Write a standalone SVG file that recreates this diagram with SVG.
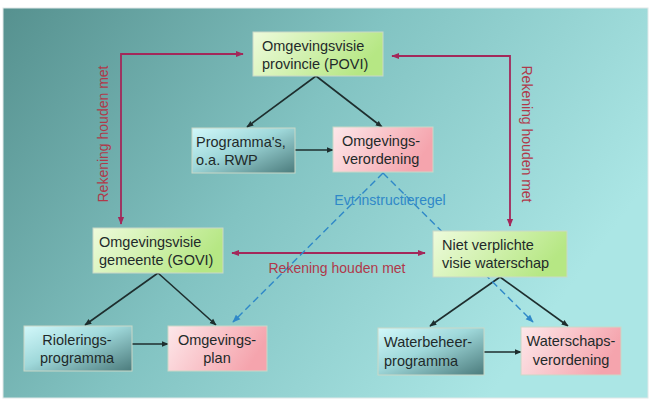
<svg xmlns="http://www.w3.org/2000/svg" width="654" height="407" viewBox="0 0 654 407">
<defs>
<linearGradient id="bg" x1="0" y1="0" x2="1" y2="0.45">
<stop offset="0" stop-color="#56918f"/>
<stop offset="0.5" stop-color="#82c3c2"/>
<stop offset="1" stop-color="#abe6e5"/>
</linearGradient>
<linearGradient id="green" x1="0" y1="0" x2="1" y2="0.3">
<stop offset="0" stop-color="#eefbdc"/>
<stop offset="1" stop-color="#b6e784"/>
</linearGradient>
<linearGradient id="teal" x1="0" y1="0" x2="1" y2="1">
<stop offset="0" stop-color="#d2f8fa"/>
<stop offset="0.45" stop-color="#9fd8da"/>
<stop offset="1" stop-color="#4b7b7c"/>
</linearGradient>
<linearGradient id="pink" x1="0" y1="0" x2="1" y2="0.3">
<stop offset="0" stop-color="#fde8ea"/>
<stop offset="1" stop-color="#f5a4ad"/>
</linearGradient>
<marker id="ab" viewBox="0 0 10 10" refX="9" refY="5" markerWidth="7" markerHeight="7" orient="auto" markerUnits="userSpaceOnUse">
<path d="M0,1 L10,5 L0,9 z" fill="#1e2e2e"/>
</marker>
<marker id="ar" viewBox="0 0 10 10" refX="9" refY="5" markerWidth="8" markerHeight="8" orient="auto-start-reverse" markerUnits="userSpaceOnUse">
<path d="M0,1 L10,5 L0,9 z" fill="#a3285a"/>
</marker>
<marker id="abl" viewBox="0 0 10 10" refX="9" refY="5" markerWidth="8" markerHeight="8" orient="auto" markerUnits="userSpaceOnUse">
<path d="M0,1 L10,5 L0,9 z" fill="#2f88c8"/>
</marker>
</defs>
<style>
.box{stroke:#c9d8c8;stroke-width:1}
.t{font-family:"Liberation Sans",Arial,sans-serif;font-size:14.5px;fill:#1f2a2a}
.c{text-anchor:middle}
.blk{stroke:#1e2e2e;stroke-width:1.6;fill:none}
.red{stroke:#a3285a;stroke-width:1.8;fill:none}
.blue{stroke:#2f88c8;stroke-width:1.4;fill:none;stroke-dasharray:7 4}
.rl{font-family:"Liberation Sans",Arial,sans-serif;font-size:14px;fill:#b0394a}
.bl{font-family:"Liberation Sans",Arial,sans-serif;font-size:14px;fill:#2f88c8}
</style>
<rect x="0" y="0" width="654" height="407" fill="#ffffff"/>
<rect x="3" y="8" width="645" height="390" fill="url(#bg)" stroke="#dfe8e8" stroke-width="1"/>

<g id="connectors">
<path class="blk" d="M316,76 L247,127" marker-end="url(#ab)"/>
<path class="blk" d="M316,76 L382,127" marker-end="url(#ab)"/>
<path class="blk" d="M295,150 L333,150" marker-end="url(#ab)"/>
<path class="blk" d="M158,273 L85,325" marker-end="url(#ab)"/>
<path class="blk" d="M158,273 L216,325" marker-end="url(#ab)"/>
<path class="blk" d="M132,344 L168,344" marker-end="url(#ab)"/>
<path class="blk" d="M500,277 L430,326" marker-end="url(#ab)"/>
<path class="blk" d="M500,277 L568,326" marker-end="url(#ab)"/>
<path class="blk" d="M484,352 L521,352" marker-end="url(#ab)"/>
<path class="red" d="M243,54 L121,54 L121,224" marker-start="url(#ar)" marker-end="url(#ar)"/>
<path class="red" d="M392,56 L510,56 L510,226" marker-start="url(#ar)" marker-end="url(#ar)"/>
<path class="red" d="M232,253 L425,253" marker-start="url(#ar)" marker-end="url(#ar)"/>
<path class="blue" d="M383,173 L233,322" marker-end="url(#abl)"/>
<path class="blue" d="M383,173 L533,322" marker-end="url(#abl)"/>
<text class="rl" transform="translate(108,134) rotate(-90)" text-anchor="middle">Rekening houden met</text>
<text class="rl" transform="translate(522,134) rotate(90)" text-anchor="middle">Rekening houden met</text>
<text class="rl" x="337" y="273" text-anchor="middle">Rekening houden met</text>
<text class="bl" x="390" y="205" text-anchor="middle">Evt  instructieregel</text>
</g>

<g id="povi">
<rect class="box" x="253" y="32" width="130" height="44" fill="url(#green)"/>
<text class="t" x="262" y="51">Omgevingsvisie</text>
<text class="t" x="262" y="69">provincie (POVI)</text>
</g>
<g id="programmas">
<rect class="box" x="192" y="128" width="103" height="45" fill="url(#teal)"/>
<text class="t" x="196" y="147">Programma's,</text>
<text class="t" x="196" y="165">o.a. RWP</text>
</g>
<g id="omgevingsverordening">
<rect class="box" x="333" y="127" width="100" height="45" fill="url(#pink)"/>
<text class="t c" x="381" y="146">Omgevings-</text>
<text class="t c" x="381" y="164">verordening</text>
</g>
<g id="govi">
<rect class="box" x="93" y="228" width="130" height="45" fill="url(#green)"/>
<text class="t" x="99" y="247">Omgevingsvisie</text>
<text class="t" x="99" y="265">gemeente (GOVI)</text>
</g>
<g id="waterschapvisie">
<rect class="box" x="433" y="231" width="134" height="46" fill="url(#green)"/>
<text class="t" x="442" y="250">Niet verplichte</text>
<text class="t" x="442" y="268">visie waterschap</text>
</g>
<g id="rioleringsprogramma">
<rect class="box" x="24" y="326" width="108" height="45" fill="url(#teal)"/>
<text class="t c" x="77" y="345">Riolerings-</text>
<text class="t c" x="77" y="363">programma</text>
</g>
<g id="omgevingsplan">
<rect class="box" x="168" y="326" width="99" height="45" fill="url(#pink)"/>
<text class="t c" x="217" y="345">Omgevings-</text>
<text class="t c" x="217" y="363">plan</text>
</g>
<g id="waterbeheerprogramma">
<rect class="box" x="378" y="328" width="106" height="47" fill="url(#teal)"/>
<text class="t" x="384" y="347">Waterbeheer-</text>
<text class="t" x="384" y="366">programma</text>
</g>
<g id="waterschapsverordening">
<rect class="box" x="521" y="327" width="100" height="48" fill="url(#pink)"/>
<text class="t c" x="571" y="346">Waterschaps-</text>
<text class="t c" x="571" y="365">verordening</text>
</g>
</svg>
